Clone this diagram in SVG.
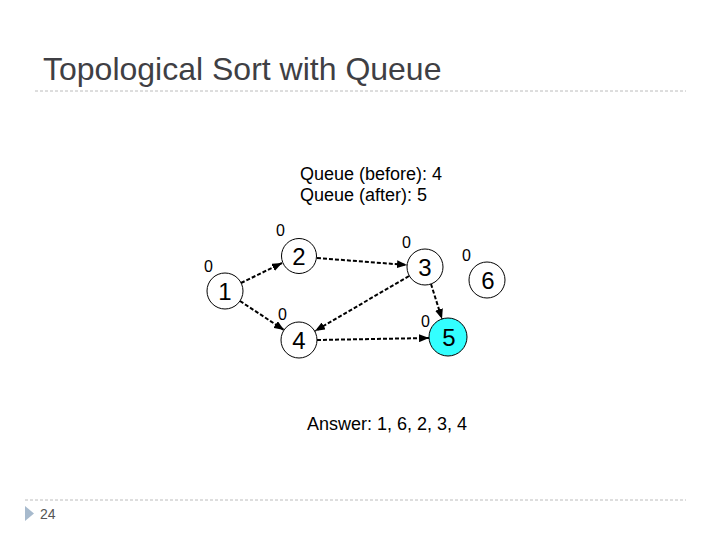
<svg xmlns="http://www.w3.org/2000/svg" width="720" height="540" viewBox="0 0 720 540">
<style>
.title{font-family:"Liberation Sans",Arial,sans-serif;font-size:32px;fill:#3f3f44}
.txt{font-family:"Liberation Sans",Arial,sans-serif;font-size:18px;fill:#000}
.lbl{font-family:"Liberation Sans",Arial,sans-serif;font-size:16px;fill:#000}
.num{font-family:"Liberation Sans",Arial,sans-serif;font-size:24px;fill:#000;text-anchor:middle}
.node{fill:#fff;stroke:#000;stroke-width:1}
.edge{stroke:#000;stroke-width:2;stroke-dasharray:4 2;fill:none;marker-end:url(#arr)}
.rule{stroke:#bcbcbc;stroke-width:1;stroke-dasharray:3 2}
</style>
<defs>
<marker id="arr" markerUnits="userSpaceOnUse" markerWidth="10" markerHeight="8" refX="10" refY="4" orient="auto">
<path d="M0,0 L10,4 L0,8 z" fill="#000"/>
</marker>
</defs>
<rect width="720" height="540" fill="#fff"/>
<text class="title" x="43" y="80">Topological Sort with Queue</text>
<line class="rule" x1="35" y1="91" x2="686" y2="91"/>
<line class="rule" x1="25" y1="500" x2="686" y2="500"/>
<path d="M25,506 L34,513.5 L25,521 z" fill="#a7bacd"/>
<text x="40" y="519" style="font-family:'Liberation Sans',Arial,sans-serif;font-size:14px;fill:#555">24</text>
<text class="txt" x="300" y="180">Queue (before): 4</text>
<text class="txt" x="300" y="201">Queue (after): 5</text>
<text class="txt" x="307" y="430">Answer: 1, 6, 2, 3, 4</text>
<g id="connectors">
<line class="edge" x1="241" y1="283" x2="282" y2="263"/>
<line class="edge" x1="240" y1="301" x2="284" y2="330"/>
<line class="edge" x1="317" y1="258" x2="407" y2="265"/>
<line class="edge" x1="409" y1="276" x2="315" y2="331"/>
<line class="edge" x1="431" y1="284" x2="442" y2="319"/>
<line class="edge" x1="317" y1="340" x2="429" y2="338"/>
</g>
<g id="n1"><circle class="node" cx="225" cy="291" r="18"/><text class="num" x="225" y="300">1</text><text class="lbl" x="204" y="272">0</text></g>
<g id="n2"><circle class="node" cx="299" cy="256" r="17.5"/><text class="num" x="299" y="265">2</text><text class="lbl" x="276" y="236">0</text></g>
<g id="n3"><circle class="node" cx="425" cy="267" r="18"/><text class="num" x="425" y="276">3</text><text class="lbl" x="402" y="248">0</text></g>
<g id="n4"><circle class="node" cx="299" cy="340" r="18"/><text class="num" x="299" y="349">4</text><text class="lbl" x="278" y="320">0</text></g>
<g id="n5"><circle cx="448" cy="337" r="19" fill="#33ffff" stroke="#000" stroke-width="1"/><text class="num" x="449" y="346">5</text><text class="lbl" x="421" y="327">0</text></g>
<g id="n6"><circle class="node" cx="487" cy="280" r="18"/><text class="num" x="488" y="289">6</text><text class="lbl" x="462" y="261">0</text></g>
</svg>
